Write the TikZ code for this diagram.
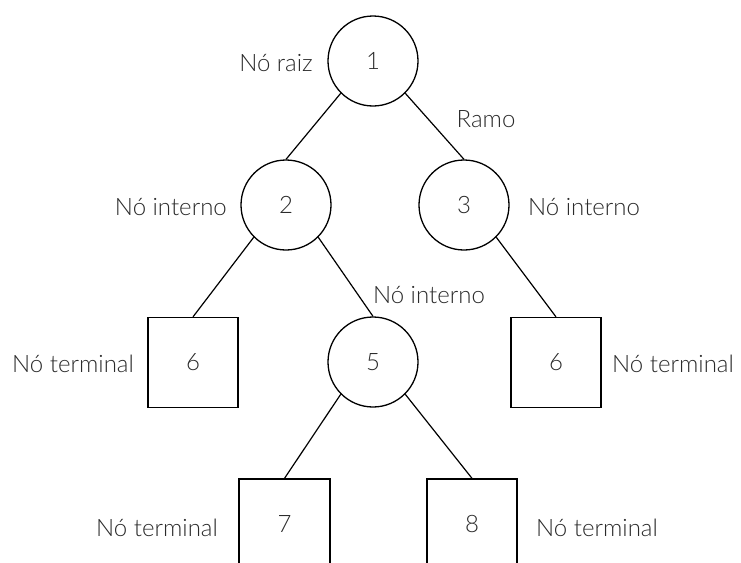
\documentclass[tikz,border=0pt]{standalone}
\usepackage{fontspec}
\setmainfont{Lato}[UprightFont=* Light]
\definecolor{txt}{HTML}{2A2A2A}
\begin{document}
\begin{tikzpicture}[x=1pt,y=-1pt,
  every node/.style={font=\fontsize{24}{28}\selectfont, text=txt},
  inner/.style={circle, draw=black, line width=1.3pt, minimum size=90pt, inner sep=0pt},
  leaf/.style={rectangle, draw=black, line width=1.3pt, minimum width=90pt, minimum height=90pt, inner sep=0pt},
  edge/.style={draw=black, line width=1.2pt},
  lbl/.style={inner sep=0pt}]
\useasboundingbox (0,0) rectangle (741,562);
\node[inner] (n1) at (373,61) {1};
\node[inner] (n2) at (286,205) {2};
\node[inner] (n3) at (464,205) {3};
\node[leaf] (s6l) at (193,362.5) {6};
\node[inner] (n5) at (373,362) {5};
\node[leaf] (s6r) at (556,362.5) {6};
\node[leaf, minimum width=91pt] (s7) at (284.5,524) {7};
\node[leaf] (s8) at (472,524) {8};
\path[edge] (n1.south west) -- (n2.north);
\path[edge] (n1.south east) -- (n3.north);
\path[edge] (n2.south west) -- (s6l.north);
\path[edge] (n2.south east) -- (n5.north);
\path[edge] (n3.south east) -- (s6r.north);
\path[edge] (n5.south west) -- (s7.north);
\path[edge] (n5.south east) -- (s8.north);
\node[lbl, anchor=east] (l1) at (313,63) {Nó raiz};
\node[lbl] (lr) at (486,119) {Ramo};
\node[lbl, anchor=east] (l2) at (227,207) {Nó interno};
\node[lbl, anchor=west] (l3) at (528,207) {Nó interno};
\node[lbl] (l5) at (429,295) {Nó interno};
\node[lbl, anchor=east] (l6l) at (134,364) {Nó terminal};
\node[lbl, anchor=west] (l6r) at (612,364) {Nó terminal};
\node[lbl, anchor=east] (l7) at (218,528) {Nó terminal};
\node[lbl, anchor=west] (l8) at (536,528) {Nó terminal};
\end{tikzpicture}
\end{document}
